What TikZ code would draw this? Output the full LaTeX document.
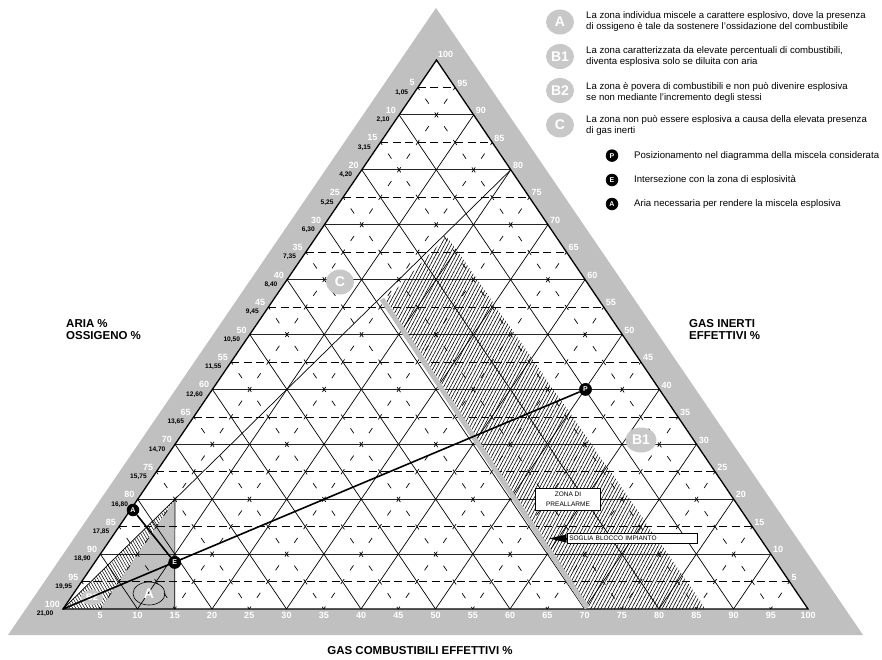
\documentclass[tikz,border=0pt]{standalone}
\usepackage{fontspec}
\setmainfont{Liberation Sans}
\usetikzlibrary{patterns.meta,arrows.meta,shapes.geometric}
\definecolor{bandgrey}{RGB}{192,192,192}
\definecolor{labgrey}{RGB}{200,200,200}
\begin{document}
\begin{tikzpicture}[x=1pt,y=-1pt,
  hsolid/.style={line width=1.1pt,black!85},
  hdash/.style={line width=0.7pt,dash pattern=on 8pt off 4.5pt},
  ssolid/.style={line width=0.7pt},
  sdash/.style={line width=0.7pt,dash pattern=on 6pt off 10.6pt,dash phase=3pt},
  wlab/.style={text=white,font=\bfseries\fontsize{9}{9}\selectfont,inner sep=0pt},
  blab/.style={font=\bfseries\fontsize{6.6}{7}\selectfont,inner sep=0pt},
  zonelab/.style={ellipse,fill=labgrey,text=white,font=\bfseries\fontsize{14}{15}\selectfont,inner sep=0pt,minimum width=28pt,minimum height=25pt},
  dot/.style={circle,fill=black,text=white,font=\bfseries\fontsize{7}{7}\selectfont,inner sep=0pt,minimum size=12.5pt},
  legtext/.style={anchor=west,align=left,font=\fontsize{9.6}{11}\selectfont,inner sep=0pt},
  axtitle/.style={font=\bfseries\fontsize{11.5}{12}\selectfont,align=left,inner sep=0pt},
  boxlab/.style={draw=black,fill=white,line width=0.6pt,font=\fontsize{6.5}{10}\selectfont,inner sep=1.5pt},
  thick line/.style={line width=1.6pt}
  ]
\useasboundingbox (0,0) rectangle (882,659);
% grey band
\fill[bandgrey] (436,8) -- (863,635) -- (8,635) -- cycle;
\fill[white] (436.5,60) -- (808,609) -- (63,609) -- cycle;
% zone A grey
\fill[bandgrey] (100.25,609) -- (174.75,609) -- (174.95,499.2) -- cycle;
% horizontal lines
\foreach \h in {5,10,...,95}{
  \pgfmathsetmacro\xa{63+3.735*\h}
  \pgfmathsetmacro\xb{808-3.715*\h}
  \pgfmathsetmacro\yy{609-5.49*\h}
  \pgfmathtruncatemacro\m{mod(\h,10)}
  \ifnum\m=0 \draw[hsolid] (\xa,\yy) -- (\xb,\yy);
  \else \draw[hdash] (\xa,\yy) -- (\xb,\yy);\fi
}
% lines parallel to left edge (from bottom)
\foreach \g in {5,10,...,95}{
  \pgfmathsetmacro\xa{63+7.45*\g}
  \pgfmathsetmacro\xb{436.5+3.715*\g}
  \pgfmathsetmacro\yb{60+5.49*\g}
  \pgfmathtruncatemacro\m{mod(\g,10)}
  \ifnum\m=0 \draw[ssolid] (\xa,609) -- (\xb,\yb);
  \else \draw[sdash] (\xa,609) -- (\xb,\yb);\fi
}
% lines parallel to right edge (from left edge)
\foreach \k in {5,10,...,95}{
  \pgfmathsetmacro\xa{63+3.735*\k}
  \pgfmathsetmacro\ya{609-5.49*\k}
  \pgfmathsetmacro\xb{63+7.45*\k}
  \pgfmathtruncatemacro\m{mod(\k,10)}
  \ifnum\m=0 \draw[ssolid] (\xa,\ya) -- (\xb,609);
  \else \draw[sdash] (\xa,\ya) -- (\xb,609);\fi
}
% hatched zones
\fill[pattern={Lines[angle=62,distance=3pt,line width=0.6pt]}] (386,300) -- (447,236) -- (706,609) -- (590,609) -- cycle;
\fill[pattern={Lines[angle=-60,distance=2.6pt,line width=0.5pt]}] (63,609) -- (100.25,609) -- (174.95,499.2) -- cycle;
% thin lines of explosive triangle
\coordinate (L) at (63,609);
\coordinate (N) at (174.95,499.2);
\coordinate (U) at (174.75,609);
\coordinate (R80) at (510.8,169.8);
\draw[line width=0.7pt] (L) -- (R80);
\draw[line width=0.7pt] (U) -- (N);
% triangle edges
\draw[line width=1.3pt] (436.5,60) -- (808,609) -- (63,609) -- cycle;
% threshold grey line
\draw[bandgrey,line width=5pt] (382,299) -- (587,608);
% labels in band
\foreach \h/\v/\b in {0/100/{21,00},5/95/{19,95},10/90/{18,90},15/85/{17,85},20/80/{16,80},25/75/{15,75},30/70/{14,70},35/65/{13,65},40/60/{12,60},45/55/{11,55},50/50/{10,50},55/45/{9,45},60/40/{8,40},65/35/{7,35},70/30/{6,30},75/25/{5,25},80/20/{4,20},85/15/{3,15},90/10/{2,10},95/5/{1,05}}{
  \pgfmathsetmacro\xa{63+3.735*\h}
  \pgfmathsetmacro\yy{609-5.49*\h}
  \node[wlab,anchor=south east] at (\xa-3,\yy-1.2) {\v};
  \node[blab,anchor=north east] at (\xa-9.5,\yy+2) {\b};
}
\foreach \h in {5,10,...,95}{
  \pgfmathsetmacro\xb{808-3.715*\h}
  \pgfmathsetmacro\yy{609-5.49*\h}
  \node[wlab,anchor=south west] at (\xb+2,\yy-1) {\h};
}
\node[wlab,anchor=south west] at (438,57.5) {100};
\foreach \g in {5,10,...,100}{
  \pgfmathsetmacro\xa{63+7.45*\g}
  \node[wlab,anchor=north] at (\xa,612) {\g};
}
% axis titles
\node[axtitle,anchor=north west] (tL) at (66,319.5) {ARIA \%\\OSSIGENO \%};
\node[axtitle,anchor=north west] (tR) at (689,319.5) {GAS INERTI\\EFFETTIVI \%};
\node[axtitle] (tB) at (420,651) {GAS COMBUSTIBILI EFFETTIVI \%};
% zone labels in diagram
\node[zonelab] (zC) at (340,282) {C};
\node[zonelab,minimum width=31pt] (zB1) at (641,440) {B1};
\node[zonelab,minimum width=22pt,minimum height=15pt,font=\bfseries\fontsize{9.5}{10}\selectfont] (zB2) at (92,597.5) {B2};
\node[ellipse,draw=black,line width=0.6pt,minimum width=32pt,minimum height=23pt,inner sep=0pt,text=white,font=\bfseries\fontsize{14}{15}\selectfont] (zA) at (149,593.5) {A};
% boxes
\node[boxlab,align=center,minimum width=65pt,minimum height=22pt] (pre) at (568,499) {ZONA DI\\PREALLARME};
\node[boxlab,anchor=west,minimum width=130pt,minimum height=9.5pt,inner sep=1pt,align=left,text width=126pt] (sog) at (567,538.5) {SOGLIA BLOCCO IMPIANTO};
\coordinate (tip) at (549.5,538.5);
\draw[-{Triangle[length=17pt,width=8pt]},line width=0.1pt] (sog.west) -- (tip);
% mixture lines and points
\node[dot] (P) at (585.5,389.4) {P};
\node[dot] (E) at (174.75,562.4) {E};
\node[dot] (Apt) at (133,510) {A};
\draw[thick line] (P) -- (L);
\draw[thick line] (Apt) -- (E);
\node[dot] at (P) {P};
\node[dot] at (E) {E};
% legend
\node[zonelab] (lA) at (560,22) {A};
\node[legtext] (tA) at (586,21.5) {La zona individua miscele a carattere esplosivo, dove la presenza\\di ossigeno è tale da sostenere l'ossidazione del combustibile};
\node[zonelab] (lB1) at (560,56.5) {B1};
\node[legtext] (tB1) at (586,57) {La zona caratterizzata da elevate percentuali di combustibili,\\diventa esplosiva solo se diluita con aria};
\node[zonelab] (lB2) at (560,90.5) {B2};
\node[legtext] (tB2) at (586,92) {La zona è povera di combustibili e non può divenire esplosiva\\se non mediante l'incremento degli stessi};
\node[zonelab] (lC) at (560,125) {C};
\node[legtext] (tC) at (586,125.8) {La zona non può essere esplosiva a causa della elevata presenza\\di gas inerti};
\node[dot] (lP) at (612,155.6) {P};
\node[legtext] (tP) at (634,155.6) {Posizionamento nel diagramma della miscela considerata};
\node[dot] (lE) at (612,180) {E};
\node[legtext] (tE) at (634,180) {Intersezione con la zona di esplosività};
\node[dot] (lApt) at (612,204) {A};
\node[legtext] (tApt) at (634,204) {Aria necessaria per rendere la miscela esplosiva};
\end{tikzpicture}
\end{document}
